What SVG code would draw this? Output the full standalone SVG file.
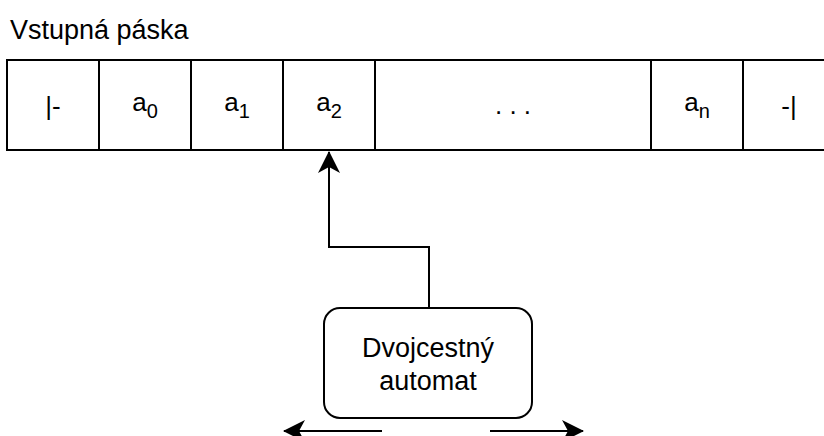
<svg xmlns="http://www.w3.org/2000/svg" width="824" height="436" viewBox="0 0 824 436">
  <style>
    .t { font-family: "Liberation Sans", Arial, sans-serif; fill: #000; }
    .cell { font-size: 26px; text-anchor: middle; }
    .sub { font-size: 20px; }
    .big { font-size: 27px; }
    .frame { fill: #fff; stroke: #000; stroke-width: 2; }
    .line { fill: none; stroke: #000; stroke-width: 2; }
  </style>
  <defs>
    <marker id="arrow" viewBox="0 0 22 22" refX="21" refY="11" markerWidth="22" markerHeight="22" markerUnits="userSpaceOnUse" orient="auto">
      <path d="M0,0 L22,11 L0,22 L6,11 Z" fill="#000"/>
    </marker>
  </defs>
  <rect width="824" height="436" fill="#fff"/>

  <text id="title" class="t big" x="10" y="39">Vstupná páska</text>

  <!-- input tape -->
  <g id="tape">
    <rect class="frame" x="7" y="60" width="830" height="90"/>
    <path class="line" d="M99 60V150M191 60V150M283 60V150M375 60V150M651 60V150M743 60V150"/>
    <text class="t cell" x="53" y="115">|-</text>
    <text class="t cell" x="145" y="111">a<tspan class="sub" dy="7">0</tspan></text>
    <text class="t cell" x="237" y="111">a<tspan class="sub" dy="7">1</tspan></text>
    <text class="t cell" x="329" y="111">a<tspan class="sub" dy="7">2</tspan></text>
    <text class="t cell" x="513" y="114">. . .</text>
    <text class="t cell" x="697" y="111">a<tspan class="sub" dy="7">n</tspan></text>
    <text class="t cell" x="789" y="115">-|</text>
  </g>

  <!-- two-way automaton -->
  <g id="automat">
    <rect class="frame" x="324" y="308" width="208" height="110" rx="16"/>
    <text class="t big" x="428" y="357" text-anchor="middle">Dvojcestný</text>
    <text class="t big" x="428" y="390" text-anchor="middle">automat</text>
  </g>

  <g id="connectors">
    <path class="line" d="M429 308V247H329V152" marker-end="url(#arrow)"/>
    <path class="line" d="M382 431H284" marker-end="url(#arrow)"/>
    <path class="line" d="M490 431H583" marker-end="url(#arrow)"/>
  </g>
</svg>
